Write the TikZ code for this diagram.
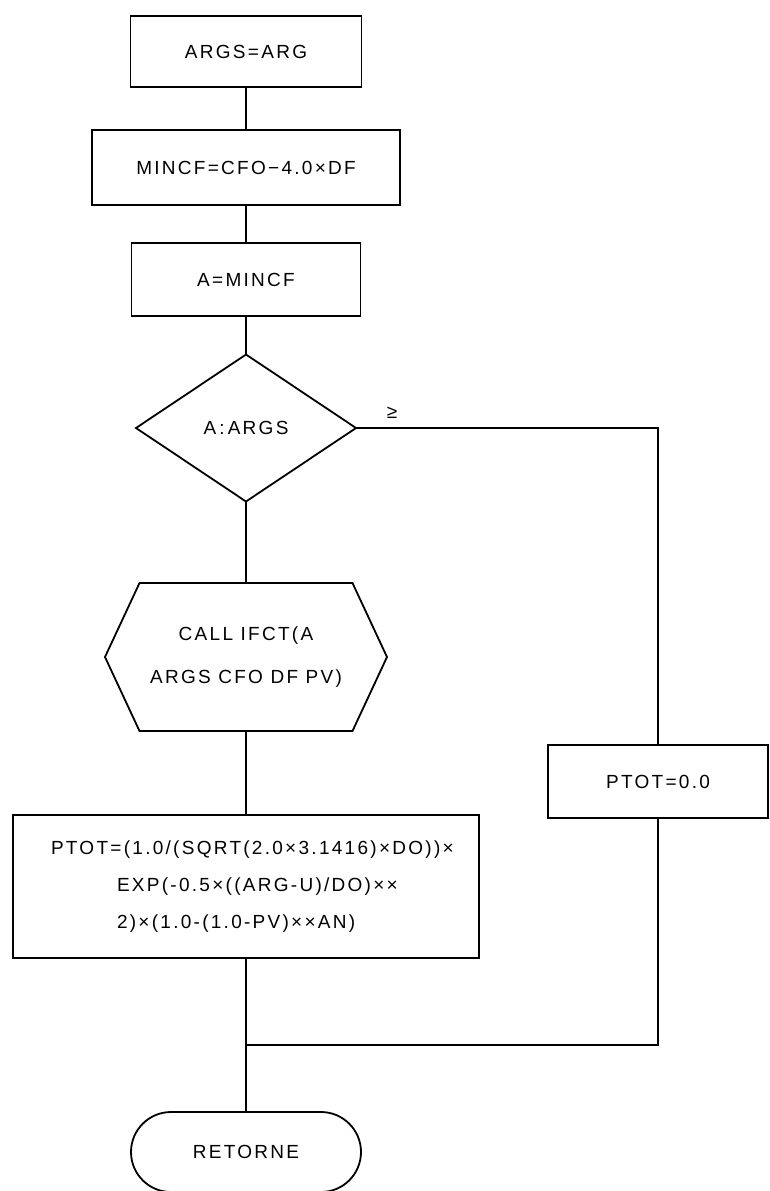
\documentclass[tikz,border=0pt]{standalone}
\usepackage{fontspec}
\setmainfont{Liberation Sans}[LetterSpace=12]
\usetikzlibrary{shapes.geometric,shapes.misc,shapes.symbols,positioning}

\begin{document}
\begin{tikzpicture}[x=0.5pt,y=-0.5pt,line width=0.9pt,
  font=\fontsize{9.5}{21.5}\selectfont,
  caja/.style={draw,rectangle,inner sep=0pt,outer sep=0pt},
  decision/.style={draw,diamond,inner sep=0pt,outer sep=0pt,minimum width=110pt,minimum height=73.5pt},
  llamada/.style={draw,signal,signal to=west and east,signal pointer angle=130,inner sep=0pt,outer sep=0pt},
  terminal/.style={draw,rounded rectangle,inner sep=0pt,outer sep=0pt}]
  \useasboundingbox (0,0) rectangle (770,1191);
  % bloques
  \node[caja,minimum width=115.5pt,minimum height=35.5pt] (args) at (246,51.5) {ARGS=ARG};
  \node[caja,minimum width=154pt,minimum height=37.5pt] (mincf) at (246,167.5) {MINCF=CFO−4.0×DF};
  \node[caja,minimum width=114.5pt,minimum height=36.5pt] (amin) at (246,279.5) {A=MINCF};
  \node[decision] (comp) at (246,428) {A\,:\,ARGS};
  \node[llamada,minimum width=141pt,minimum height=74pt,align=center] (call) at (246,657) {CALL IFCT(A\\ARGS CFO DF PV)};
  \node[caja,text width=195pt,align=left,inner xsep=19pt,minimum height=71.5pt,
    font=\fontsize{9.5}{18.5}\selectfont] (ptot) at (246,886.5)
    {PTOT=(1.0/(SQRT(2.0×3.1416)×DO))×\\
     \hspace*{33pt}EXP(-0.5×((ARG-U)/DO)××\\
     \hspace*{33pt}2)×(1.0-(1.0-PV)××AN)};
  \node[caja,minimum width=110pt,minimum height=36.5pt] (pcero) at (658,781.5) {PTOT=0.0};
  \node[terminal,minimum width=115pt,minimum height=40pt] (ret) at (246,1152) {RETORNE};
  \node (mayor) at (392,413) {≥};
  \coordinate (junta) at (246,1045);
  % lineas
  \draw (args) -- (mincf);
  \draw (mincf) -- (amin);
  \draw (amin) -- (comp);
  \draw (comp) -- (call);
  \draw (call) -- (ptot);
  \draw (ptot) -- (ret);
  \draw (comp.east) -- (comp.east -| pcero.north) -- (pcero.north);
  \draw (pcero.south) |- (junta);
\end{tikzpicture}
\end{document}
